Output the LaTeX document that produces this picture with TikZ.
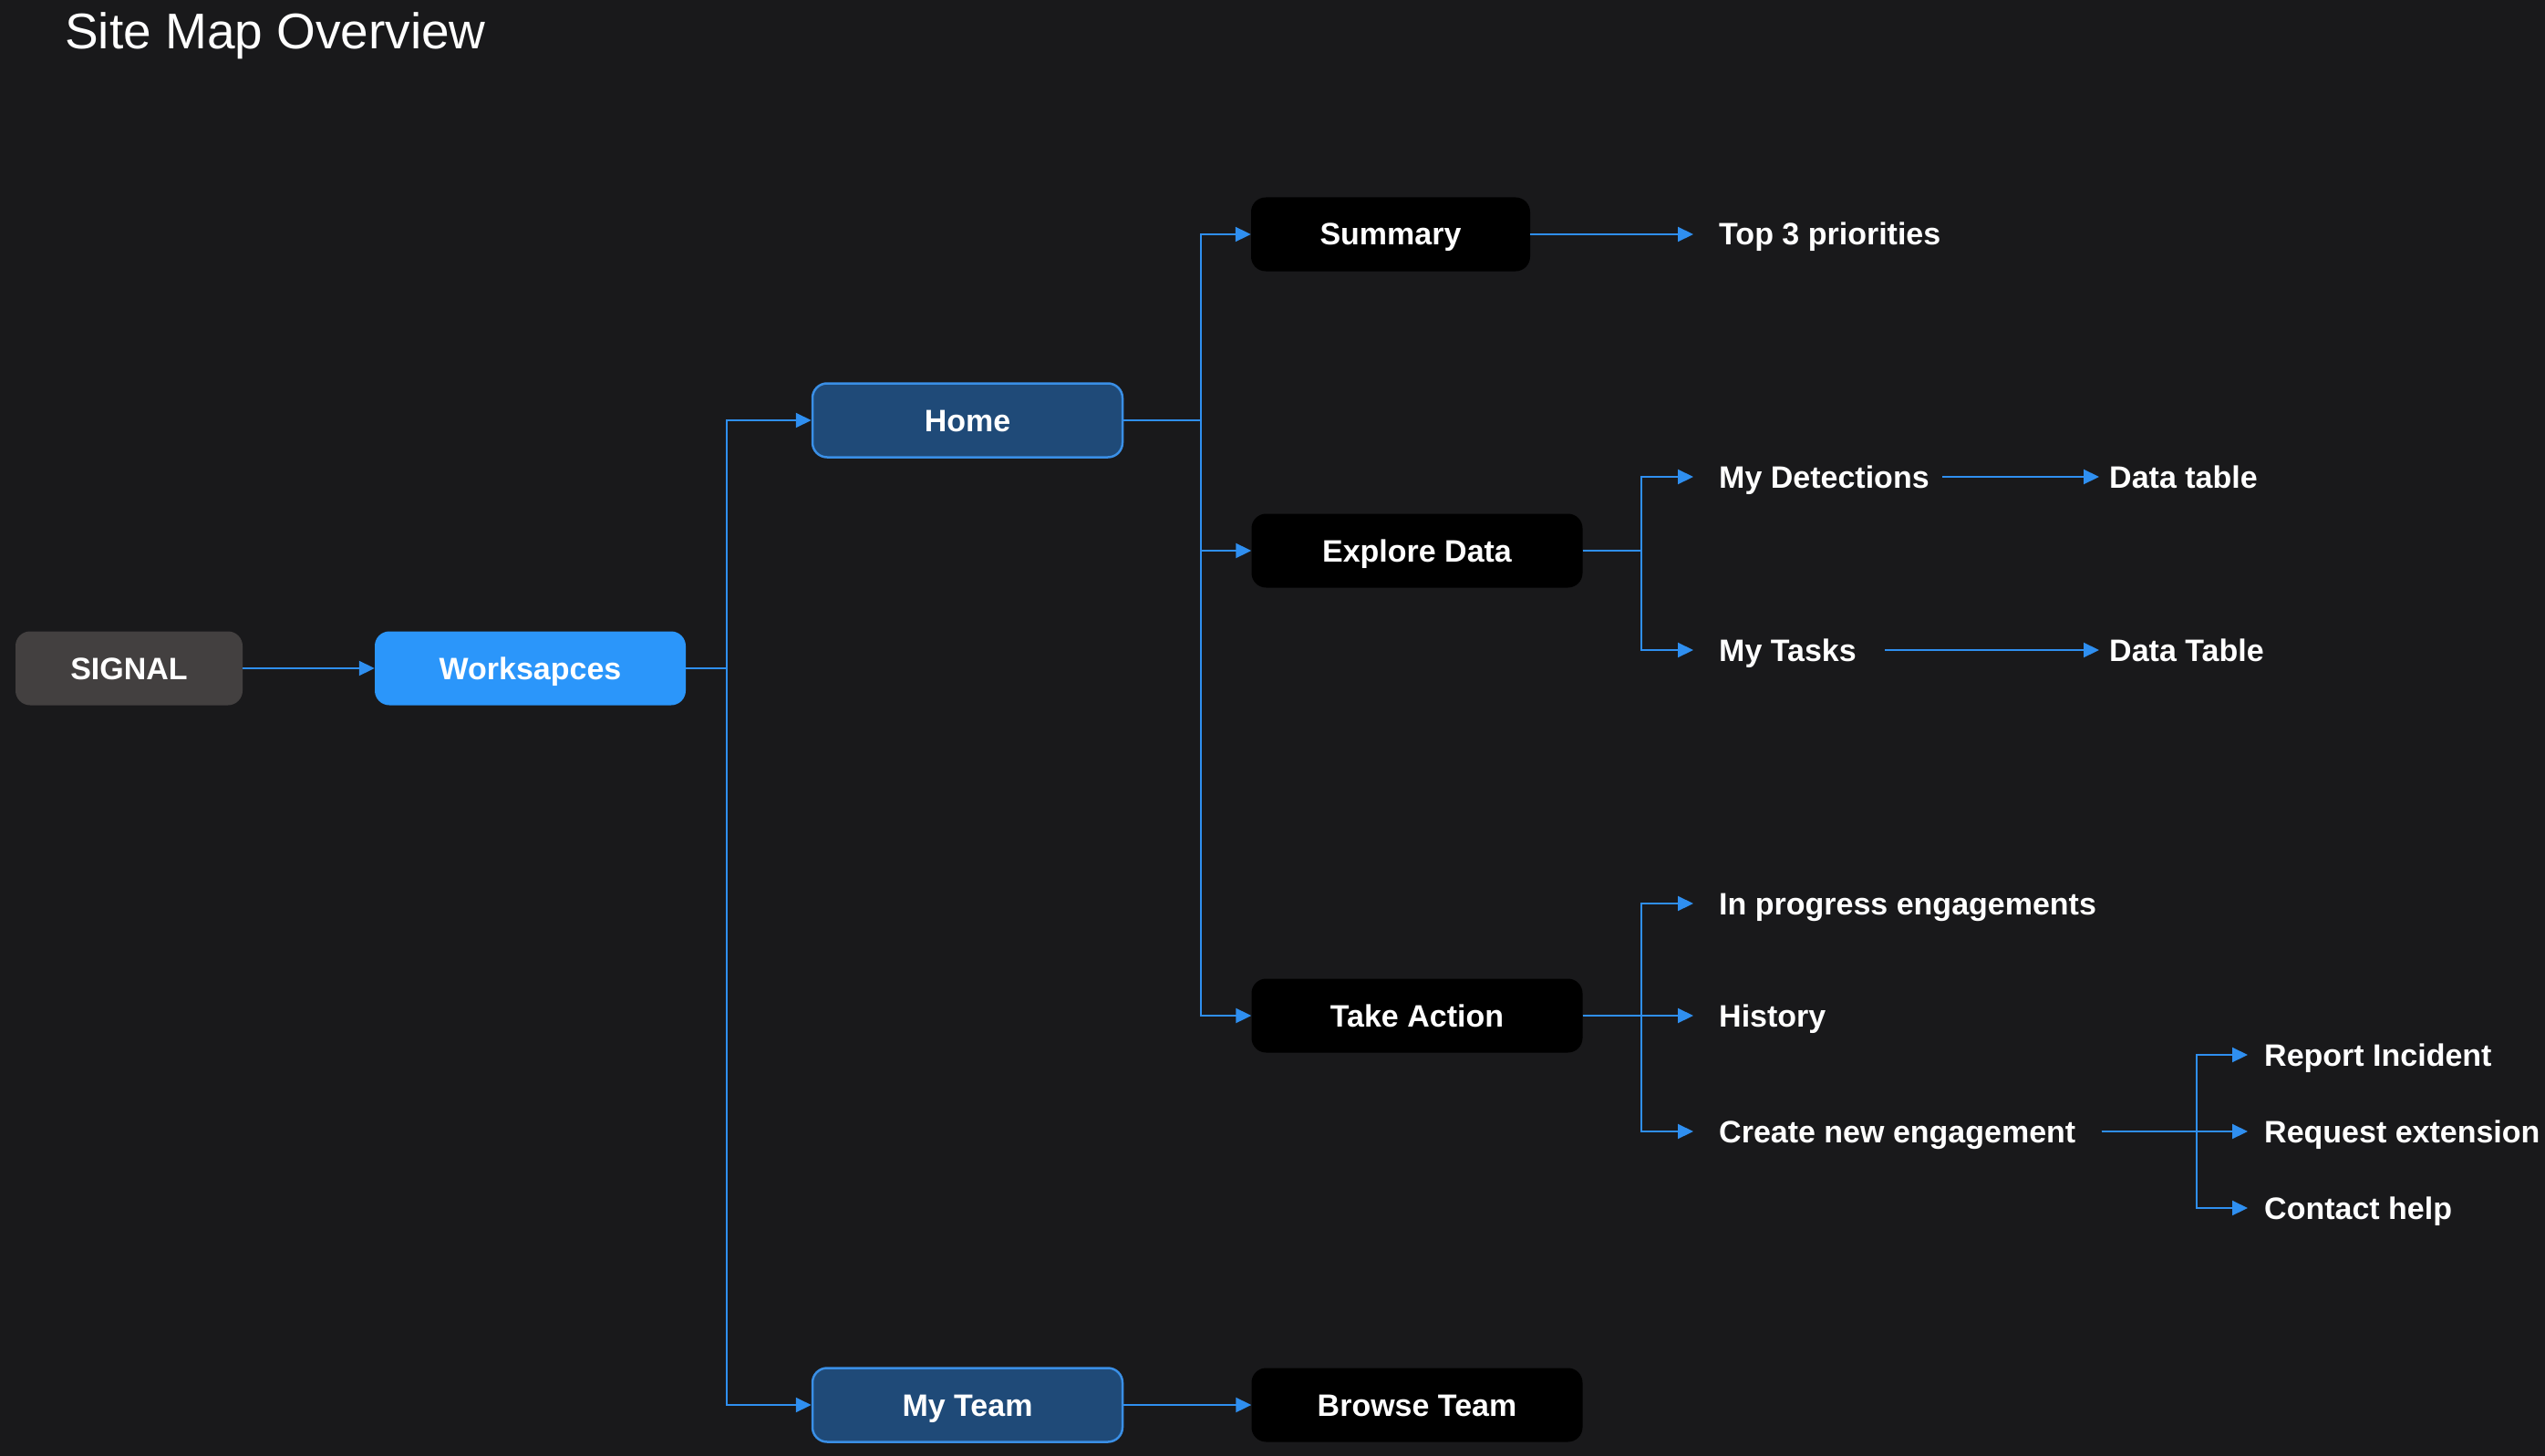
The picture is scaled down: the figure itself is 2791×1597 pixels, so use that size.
\documentclass[tikz,border=0pt]{standalone}
\usepackage{fontspec}
\setmainfont{Liberation Sans}
\usetikzlibrary{arrows.meta}
\definecolor{bgcol}{HTML}{19191B}
\definecolor{linkblue}{HTML}{2F8FF0}
\definecolor{brightblue}{HTML}{2B96FA}
\definecolor{deepblue}{HTML}{1F4A78}
\definecolor{edgeblue}{HTML}{3A8FE6}
\definecolor{rootgray}{HTML}{434040}
\begin{document}
\begin{tikzpicture}[x=1pt,y=-1pt,
    txt/.style={text=white,font=\bfseries\fontsize{34}{40}\selectfont,
      text height=24pt,text depth=0pt},
    box/.style={txt,rounded corners=16pt,minimum height=81pt,inner sep=0pt},
    rootbox/.style={box,fill=rootgray,minimum width=249pt},
    wsbox/.style={box,fill=brightblue,minimum width=341pt},
    pagebox/.style={box,fill=deepblue,draw=edgeblue,line width=2.5pt,minimum width=340pt},
    viewbox/.style={box,fill=black},
    leaf/.style={txt,anchor=west,inner sep=0pt},
    link/.style={draw=linkblue,line width=2pt,-{Triangle[length=17pt,width=16pt]}}]
  \useasboundingbox (0,0) rectangle (2791,1597);
  \fill[bgcol] (0,0) rectangle (2791,1597);
  \node[anchor=west,inner sep=0pt,text=white,font=\fontsize{55}{64}\selectfont,
    text height=39pt,text depth=0pt] (title) at (71,34) {Site Map Overview};
  \draw
    (141.5,733) node[rootbox] (signal){SIGNAL}
    (581.5,733) node[wsbox] (wks){Worksapces}
    (1061,461) node[pagebox] (home){Home}
    (1061,1541) node[pagebox] (myteam){My Team}
    (1525,257) node[viewbox,minimum width=306pt] (summary){Summary}
    (1554,604) node[viewbox,minimum width=363pt] (explore){Explore Data}
    (1554,1114) node[viewbox,minimum width=363pt] (action){Take Action}
    (1554,1541) node[viewbox,minimum width=363pt] (browse){Browse Team};
  \draw
    (1885,257) node[leaf] (top3){Top 3 priorities}
    (1885,523) node[leaf] (detect){My Detections}
    (1885,713) node[leaf] (tasks){My Tasks}
    (2313,523) node[leaf] (dtable1){Data table}
    (2313,713) node[leaf] (dtable2){Data Table}
    (1885,991) node[leaf] (inprog){In progress engagements}
    (1885,1114) node[leaf] (history){History}
    (1885,1241) node[leaf] (create){Create new engagement}
    (2483,1157) node[leaf] (report){Report Incident}
    (2483,1241) node[leaf] (request){Request extension}
    (2483,1325) node[leaf] (contact){Contact help};
  % bus points
  \coordinate (wsbus) at (797,733);
  \coordinate (homebus) at (1317,461);
  \coordinate (explorebus) at (1800,604);
  \coordinate (actionbus) at (1800,1114);
  \coordinate (createbus) at (2409,1241);
  \begin{scope}[link]
    \draw (signal) to (wks);
    \draw (wks.east) -- (wsbus) |- (home.west);
    \draw (wks.east) -- (wsbus) |- (myteam.west);
    \draw (myteam) to (browse);
    \draw (home.east) -- (homebus) |- (summary.west);
    \draw (home.east) -- (homebus) |- (explore.west);
    \draw (home.east) -- (homebus) |- (action.west);
    \draw[shorten >=28pt] (summary.east) -- (top3.west);
    \draw[shorten >=28pt] (explore.east) -- (explorebus) |- (detect.west);
    \draw[shorten >=28pt] (explore.east) -- (explorebus) |- (tasks.west);
    \draw[shorten <=14pt,shorten >=11pt] (detect.east) -- (dtable1.west);
    \draw[shorten <=31pt,shorten >=11pt] (tasks.east) -- (dtable2.west);
    \draw[shorten >=28pt] (action.east) -- (actionbus) |- (inprog.west);
    \draw[shorten >=28pt] (action.east) -- (history.west);
    \draw[shorten >=28pt] (action.east) -- (actionbus) |- (create.west);
    \draw[shorten <=28pt,shorten >=18pt] (create.east) -- (createbus) |- (report.west);
    \draw[shorten <=28pt,shorten >=18pt] (create.east) -- (request.west);
    \draw[shorten <=28pt,shorten >=18pt] (create.east) -- (createbus) |- (contact.west);
  \end{scope}
\end{tikzpicture}
\end{document}
